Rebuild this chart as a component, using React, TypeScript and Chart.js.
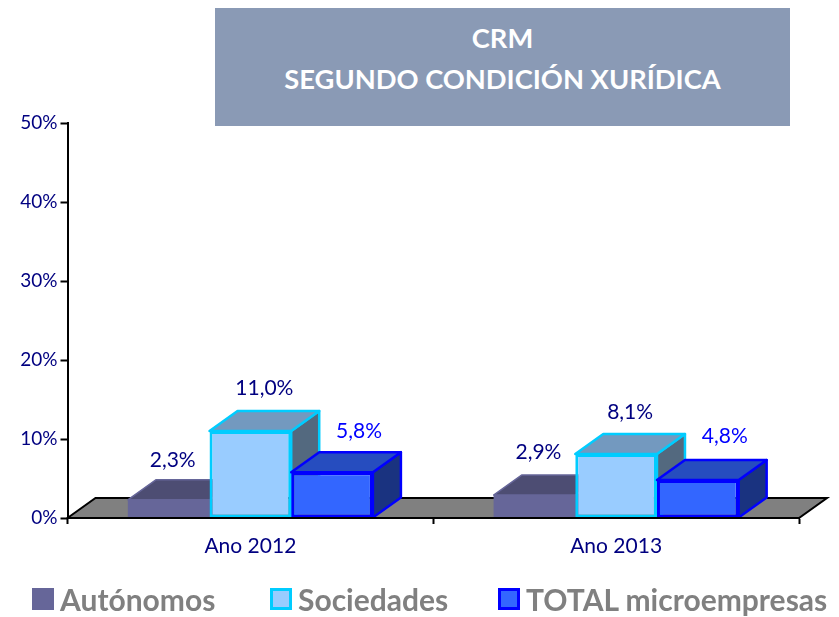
import React, { useEffect, useRef } from "react";
import { Chart, registerables } from "chart.js";

Chart.register(...registerables);

const titleLines = ["CRM", "SEGUNDO CONDICIÓN XURÍDICA"];
const categories = ["Ano 2012", "Ano 2013"];
const seriesNames = ["Autónomos", "Sociedades", "TOTAL microempresas"];
const autonomos = [2.3, 2.9];
const sociedades = [11.0, 8.1];
const totalMicro = [5.8, 4.8];
const yTicks = [0, 10, 20, 30, 40, 50];

const fills = ["#666699", "#99CCFF", "#3366FF"];
const borders = ["#666699", "#00CCFF", "#0000FF"];
const tops = ["#4D4D73", "#7399BF", "#264DBF"];
const sides = ["#4D4D73", "#53697F", "#1A3380"];
const labelColors = ["#000080", "#000080", "#0000FF"];
const labelShift = [4, 14, 27];
const labelRise = [[40, 43], [43, 42], [41, 44]];
const legendLeft = [32, 270, 498];

const DX = 28;
const DY = 20;
const FONT = "Lato, Carlito, sans-serif";

const poly = (ctx: CanvasRenderingContext2D, pts: number[][], fill: string, stroke: string, lw: number) => {
  ctx.beginPath();
  pts.forEach((p, i) => (i ? ctx.lineTo(p[0], p[1]) : ctx.moveTo(p[0], p[1])));
  ctx.closePath();
  ctx.fillStyle = fill;
  ctx.fill();
  ctx.strokeStyle = stroke;
  ctx.lineWidth = lw;
  ctx.lineJoin = "round";
  ctx.stroke();
};

const box3d = {
  id: "box3d",
  beforeDatasetsDraw(chart: any) {
    const { ctx, chartArea: a } = chart;
    ctx.save();
    ctx.beginPath();
    ctx.moveTo(a.left, a.bottom);
    ctx.lineTo(a.left + DX, a.bottom - DY);
    ctx.lineTo(a.right + DX, a.bottom - DY);
    ctx.lineTo(a.right, a.bottom);
    ctx.closePath();
    ctx.fillStyle = "#808080";
    ctx.fill();
    ctx.strokeStyle = "#000000";
    ctx.lineWidth = 2;
    ctx.stroke();

    // Paint left to right so each bar's front covers its left neighbour's side face.
    chart.data.datasets.forEach((_: any, i: number) => {
      const meta = chart.getDatasetMeta(i);
      const lw = i === 0 ? 1.5 : 2.5;
      meta.data.forEach((bar: any) => {
        const { x, y, base, width } = bar.getProps(["x", "y", "base", "width"], true);
        const l = x - width / 2;
        const r = x + width / 2;
        poly(ctx, [[r, y], [r + DX, y - DY], [r + DX, base - DY], [r, base]], sides[i], borders[i], lw);
        poly(ctx, [[l, y], [l + DX, y - DY], [r + DX, y - DY], [r, y]], tops[i], borders[i], lw);
      });
      meta.controller.draw();
    });

    ctx.font = `21px ${FONT}`;
    ctx.textAlign = "center";
    ctx.textBaseline = "middle";
    chart.data.datasets.forEach((ds: any, i: number) => {
      chart.getDatasetMeta(i).data.forEach((bar: any, j: number) => {
        const { x, y } = bar.getProps(["x", "y"], true);
        ctx.fillStyle = labelColors[i];
        ctx.fillText(ds.data[j].toFixed(1).replace(".", ",") + "%", x + labelShift[i], y - labelRise[i][j]);
      });
    });
    ctx.restore();
    return false;
  },
};

export default function App() {
  const ref = useRef<HTMLCanvasElement>(null);
  useEffect(() => {
    const series = [autonomos, sociedades, totalMicro];
    const chart = new Chart(ref.current as HTMLCanvasElement, {
      type: "bar",
      data: {
        labels: categories,
        datasets: series.map((data, i) => ({
          label: seriesNames[i],
          data,
          backgroundColor: fills[i],
          borderColor: borders[i],
          borderWidth: i === 0 ? 0 : 3,
          borderSkipped: false,
          categoryPercentage: 0.67,
          barPercentage: 1,
        })),
      },
      options: {
        responsive: false,
        animation: false,
        layout: { padding: { top: 123, right: 40, left: 0, bottom: 0 } },
        plugins: { legend: { display: false }, title: { display: false }, tooltip: { enabled: false } },
        scales: {
          x: {
            afterFit: (s: any) => { s.height = 99; },
            grid: { display: true, drawOnChartArea: false, drawTicks: true, tickLength: 6, tickColor: "#000000", tickWidth: 2, offset: true, z: 1 },
            border: { color: "#000000", width: 2, z: 1 },
            ticks: { color: "#000080", font: { family: FONT, size: 21 }, padding: 10 },
          },
          y: {
            min: 0,
            max: 50,
            afterFit: (s: any) => { s.width = 67.5; },
            afterBuildTicks: (s: any) => { s.ticks = yTicks.map((value) => ({ value })); },
            grid: { display: true, drawOnChartArea: false, drawTicks: true, tickLength: 7, tickColor: "#000000", tickWidth: 2, z: 1 },
            border: { color: "#000000", width: 2, z: 1 },
            ticks: { color: "#000080", font: { family: FONT, size: 19 }, padding: 3, callback: (v: any) => v + "%" },
          },
        },
      },
      plugins: [box3d],
    } as any);
    return () => chart.destroy();
  }, []);

  return (
    <div style={{ position: "fixed", left: 0, top: 0, width: 839, height: 617, background: "#fff", overflow: "hidden" }}>
      <canvas ref={ref} width={839} height={617} style={{ position: "absolute", left: 0, top: 0 }} />
      <div
        style={{
          position: "absolute", left: 215, top: 8, width: 575, height: 118, background: "#8A9AB5",
          color: "#fff", fontFamily: FONT, fontWeight: 700, fontSize: 27.3, lineHeight: "41px",
          textAlign: "center", paddingTop: 9, boxSizing: "border-box",
        }}
      >
        {titleLines.map((t) => <div key={t}>{t}</div>)}
      </div>
      {seriesNames.map((name, i) => (
        <div key={name} style={{ position: "absolute", left: legendLeft[i], top: 581, height: 36, display: "flex", alignItems: "center", whiteSpace: "nowrap" }}>
          <span style={{ width: 22, height: 22, boxSizing: "border-box", background: fills[i], border: `3px solid ${borders[i]}`, marginRight: 6 }} />
          <span style={{ fontFamily: FONT, fontWeight: 700, fontSize: 30, color: "#808080" }}>{name}</span>
        </div>
      ))}
    </div>
  );
}
